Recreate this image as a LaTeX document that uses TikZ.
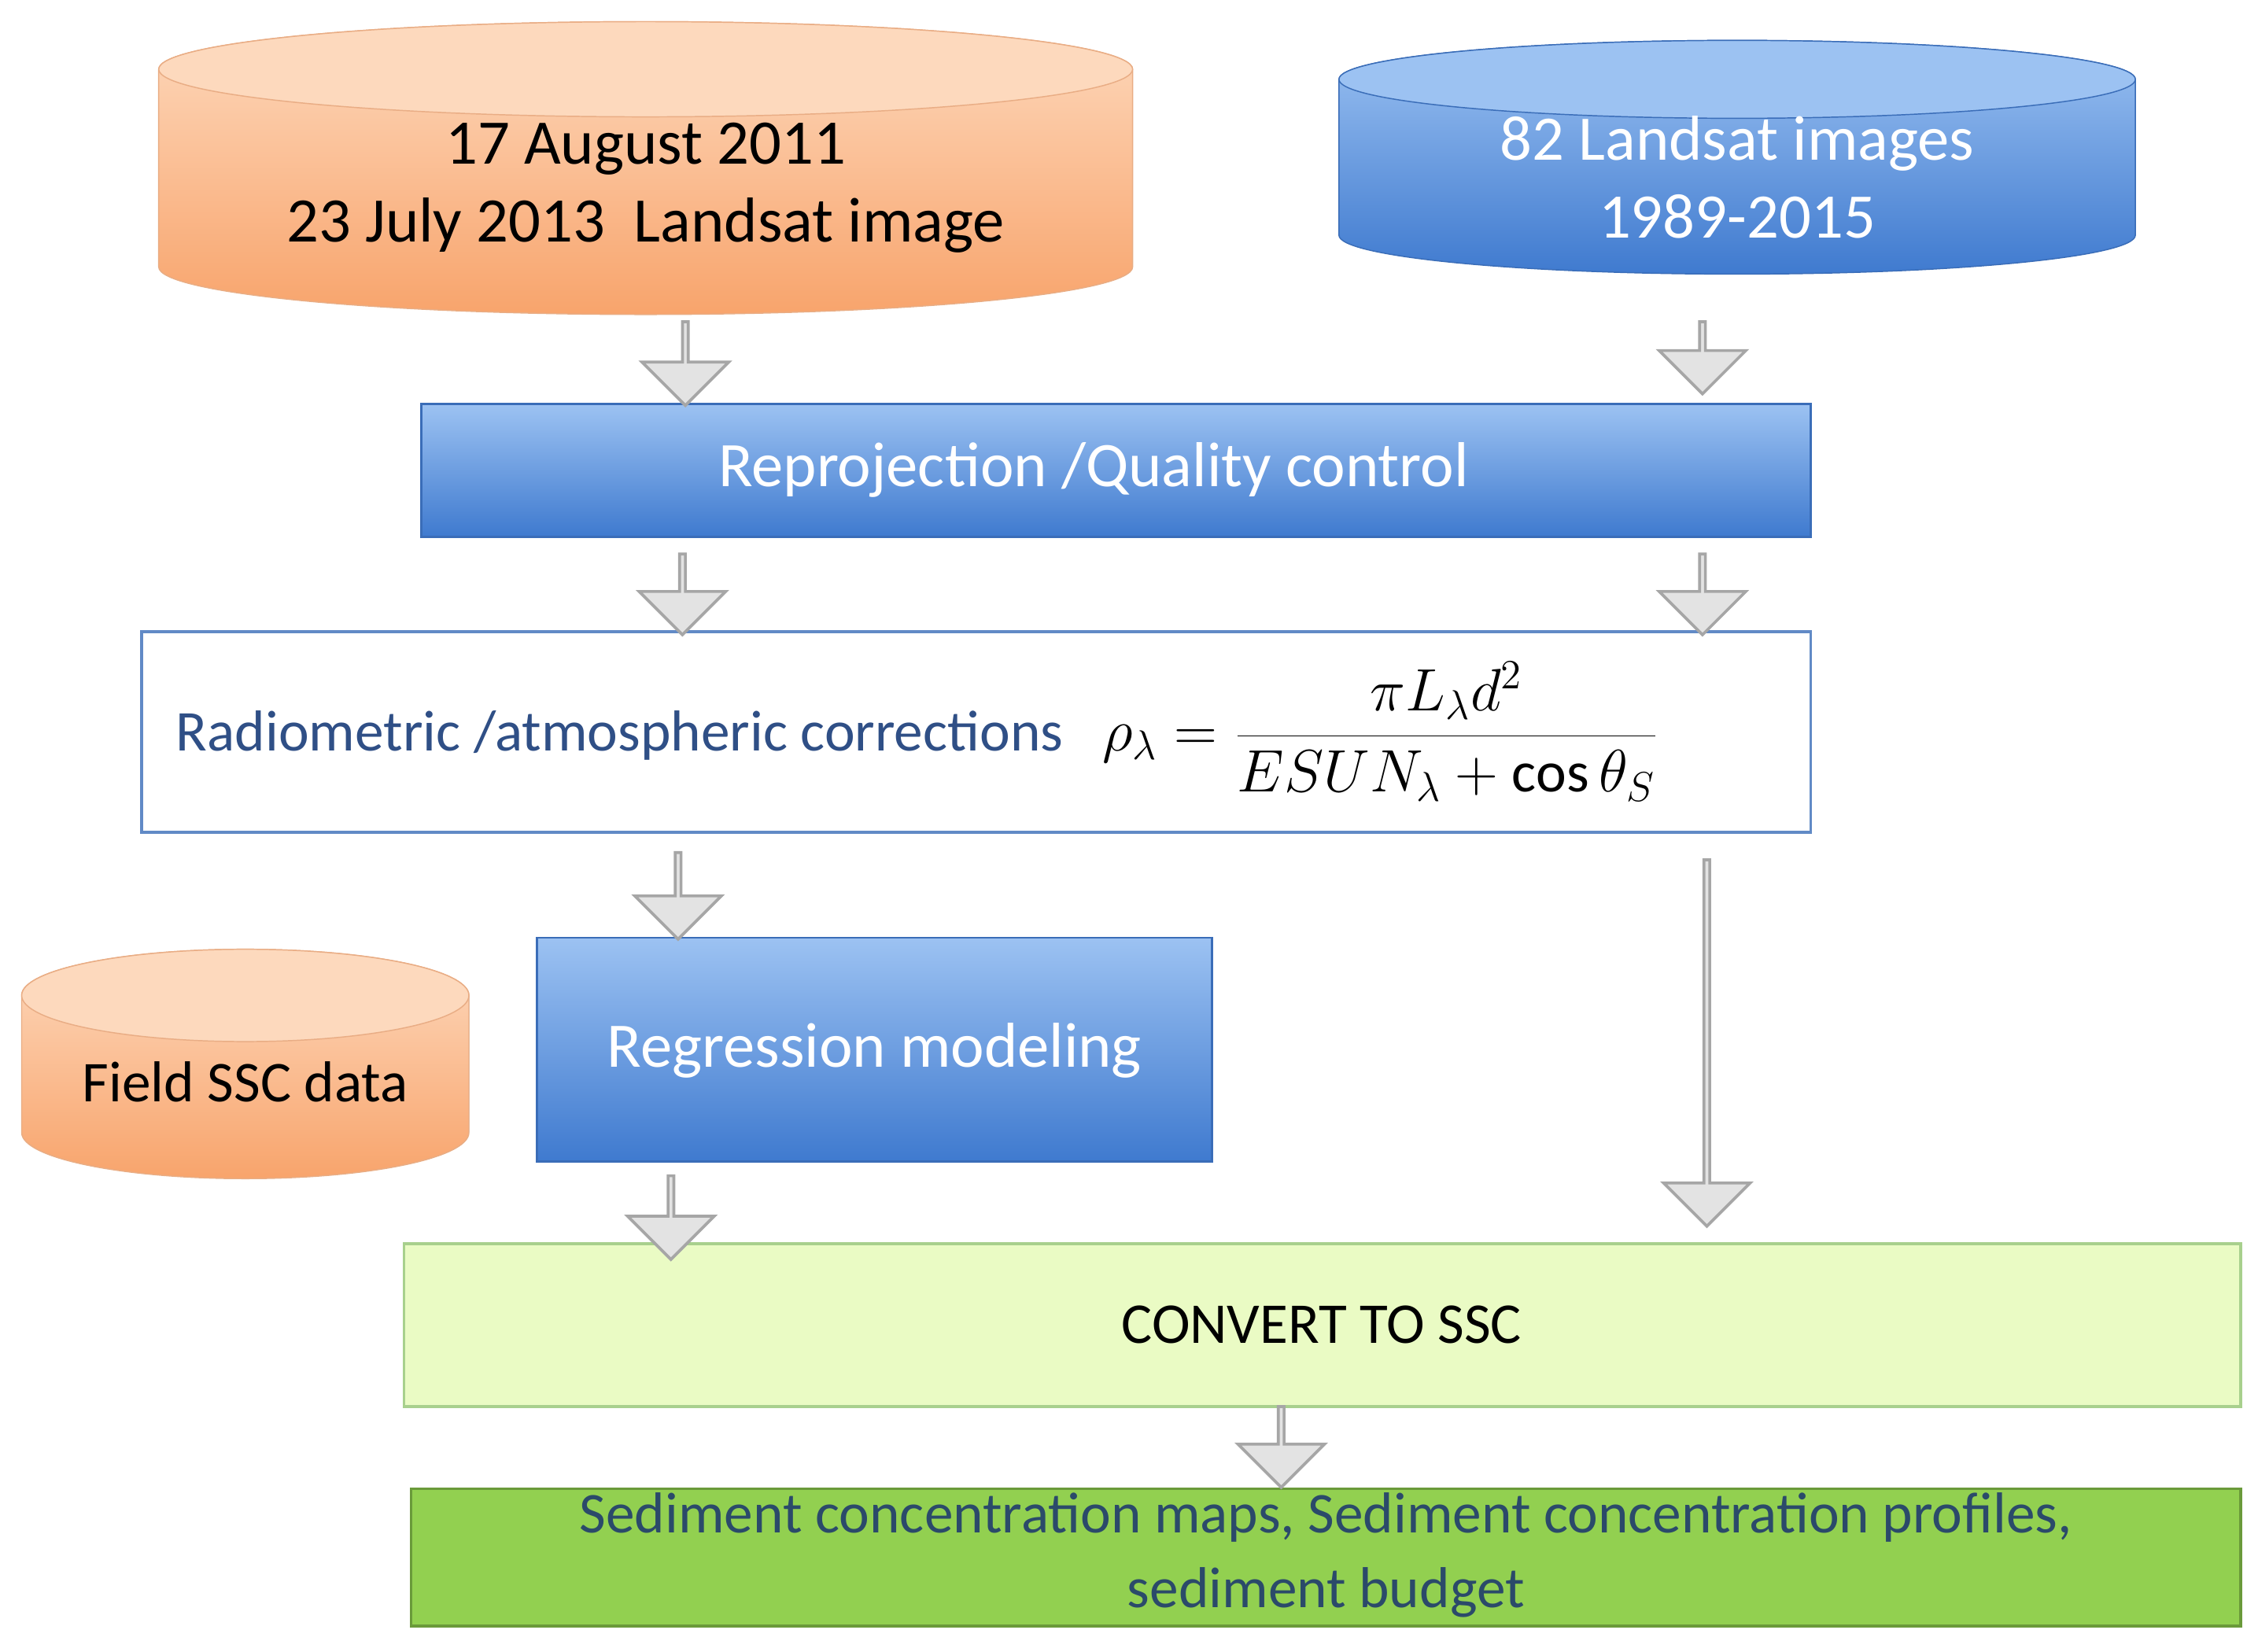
\documentclass[tikz,border=0pt]{standalone}
\usepackage{fontspec}
\setmainfont{Carlito}
\usetikzlibrary{shapes.arrows}
\definecolor{orT}{HTML}{FDD9BD}\definecolor{orB}{HTML}{F8A46C}\definecolor{orE}{HTML}{E08A50}
\definecolor{blT}{HTML}{9CC2F2}\definecolor{blB}{HTML}{3F7ACF}\definecolor{blE}{HTML}{3A6DB8}
\definecolor{txb}{HTML}{2F4F86}\definecolor{lg}{HTML}{EAFBC4}\definecolor{lgE}{HTML}{A8D08D}
\definecolor{gr}{HTML}{92D050}\definecolor{grE}{HTML}{6A9A3A}\definecolor{sedt}{HTML}{2B4A6A}
\begin{document}
\begin{tikzpicture}[x=0.5pt,y=-0.5pt,
 barrow/.style={single arrow, draw=gray!70, fill=gray!22, line width=1pt, shape border rotate=270, single arrow head extend=7pt, inner sep=0pt, minimum width=#1},
 bluebox/.style={draw=blE, top color=blT, bottom color=blB, line width=0.8pt},
 lbl/.style={font=\fontsize{22}{27}\selectfont, align=center}]
\useasboundingbox (0,0) rectangle (1565,1145);
% orange cylinder
\fill[top color=orT, bottom color=orB, draw=orE!70] (110,48) -- (110,185) arc[start angle=180,end angle=360,x radius=168.75pt,y radius=16.5pt] -- (785,48) arc[start angle=0,end angle=180,x radius=168.75pt,y radius=16.5pt] -- cycle;
\draw[orE!70, fill=orT] (447.5,48) ellipse[x radius=168.75pt,y radius=16.5pt];
\node[lbl] (c1) at (447.5,130) {17 August 2011\\23 July 2013\ \ Landsat image};
% blue cylinder
\fill[top color=blT, bottom color=blB, draw=blE] (928,55) -- (928,163) arc[start angle=180,end angle=360,x radius=138pt,y radius=13.5pt] -- (1480,55) arc[start angle=0,end angle=180,x radius=138pt,y radius=13.5pt] -- cycle;
\draw[blE, fill=blT] (1204,55) ellipse[x radius=138pt,y radius=13.5pt];
\node[lbl, text=white] (c2) at (1204,123) {82 Landsat images\\1989-2015};
% field cylinder
\fill[top color=orT, bottom color=orB, draw=orE!70] (15,690) -- (15,785) arc[start angle=180,end angle=360,x radius=77.5pt,y radius=16pt] -- (325,690) arc[start angle=0,end angle=180,x radius=77.5pt,y radius=16pt] -- cycle;
\draw[orE!70, fill=orT] (170,690) ellipse[x radius=77.5pt,y radius=16pt];
\node[lbl, font=\fontsize{20}{24}\selectfont] (c3) at (170,750) {Field SSC data};
% boxes
\draw[bluebox] (292,280) rectangle (1255,372);
\node[lbl, text=white] (rp) at (758,326) {Reprojection /Quality control};
\draw[draw=blE!80, fill=white, line width=1pt] (98,438) rectangle (1255,577);
\node[font=\fontsize{20}{24}\selectfont, text=txb, anchor=west] (rad) at (115,507) {Radiometric /atmospheric corrections\ \ \ {\color{black}$\displaystyle \rho_\lambda = \frac{\pi L_\lambda d^2}{ESUN_\lambda + \cos\theta_S}$}};
\draw[bluebox] (372,650) rectangle (840,805);
\node[lbl, text=white] (reg) at (606,728) {Regression modeling};
\draw[draw=lgE, fill=lg, line width=1pt] (280,862) rectangle (1553,975);
\node[lbl, font=\fontsize{20}{24}\selectfont] (cv) at (916,918) {CONVERT TO SSC};
\draw[draw=grE, fill=gr, line width=1pt] (285,1032) rectangle (1553,1127);
\node[lbl, font=\fontsize{20}{26}\selectfont, text=sedt] (sed) at (919,1078) {Sediment concentration maps, Sediment concentration profiles,\\sediment budget};
% arrows
\node[barrow=30pt, minimum height=29pt] (a1) at (475,251) {};
\node[barrow=30pt, minimum height=25pt] (a2) at (1180,247) {};
\node[barrow=30pt, minimum height=28pt] (a3) at (473,411) {};
\node[barrow=30pt, minimum height=28pt] (a4) at (1180,411) {};
\node[barrow=30pt, minimum height=30pt] (a5) at (470,620) {};
\node[barrow=30pt, minimum height=127pt] (a6) at (1183,722) {};
\node[barrow=30pt, minimum height=29pt] (a7) at (465,843) {};
\node[barrow=30pt, minimum height=28pt] (a8) at (888,1002) {};
\end{tikzpicture}
\end{document}
